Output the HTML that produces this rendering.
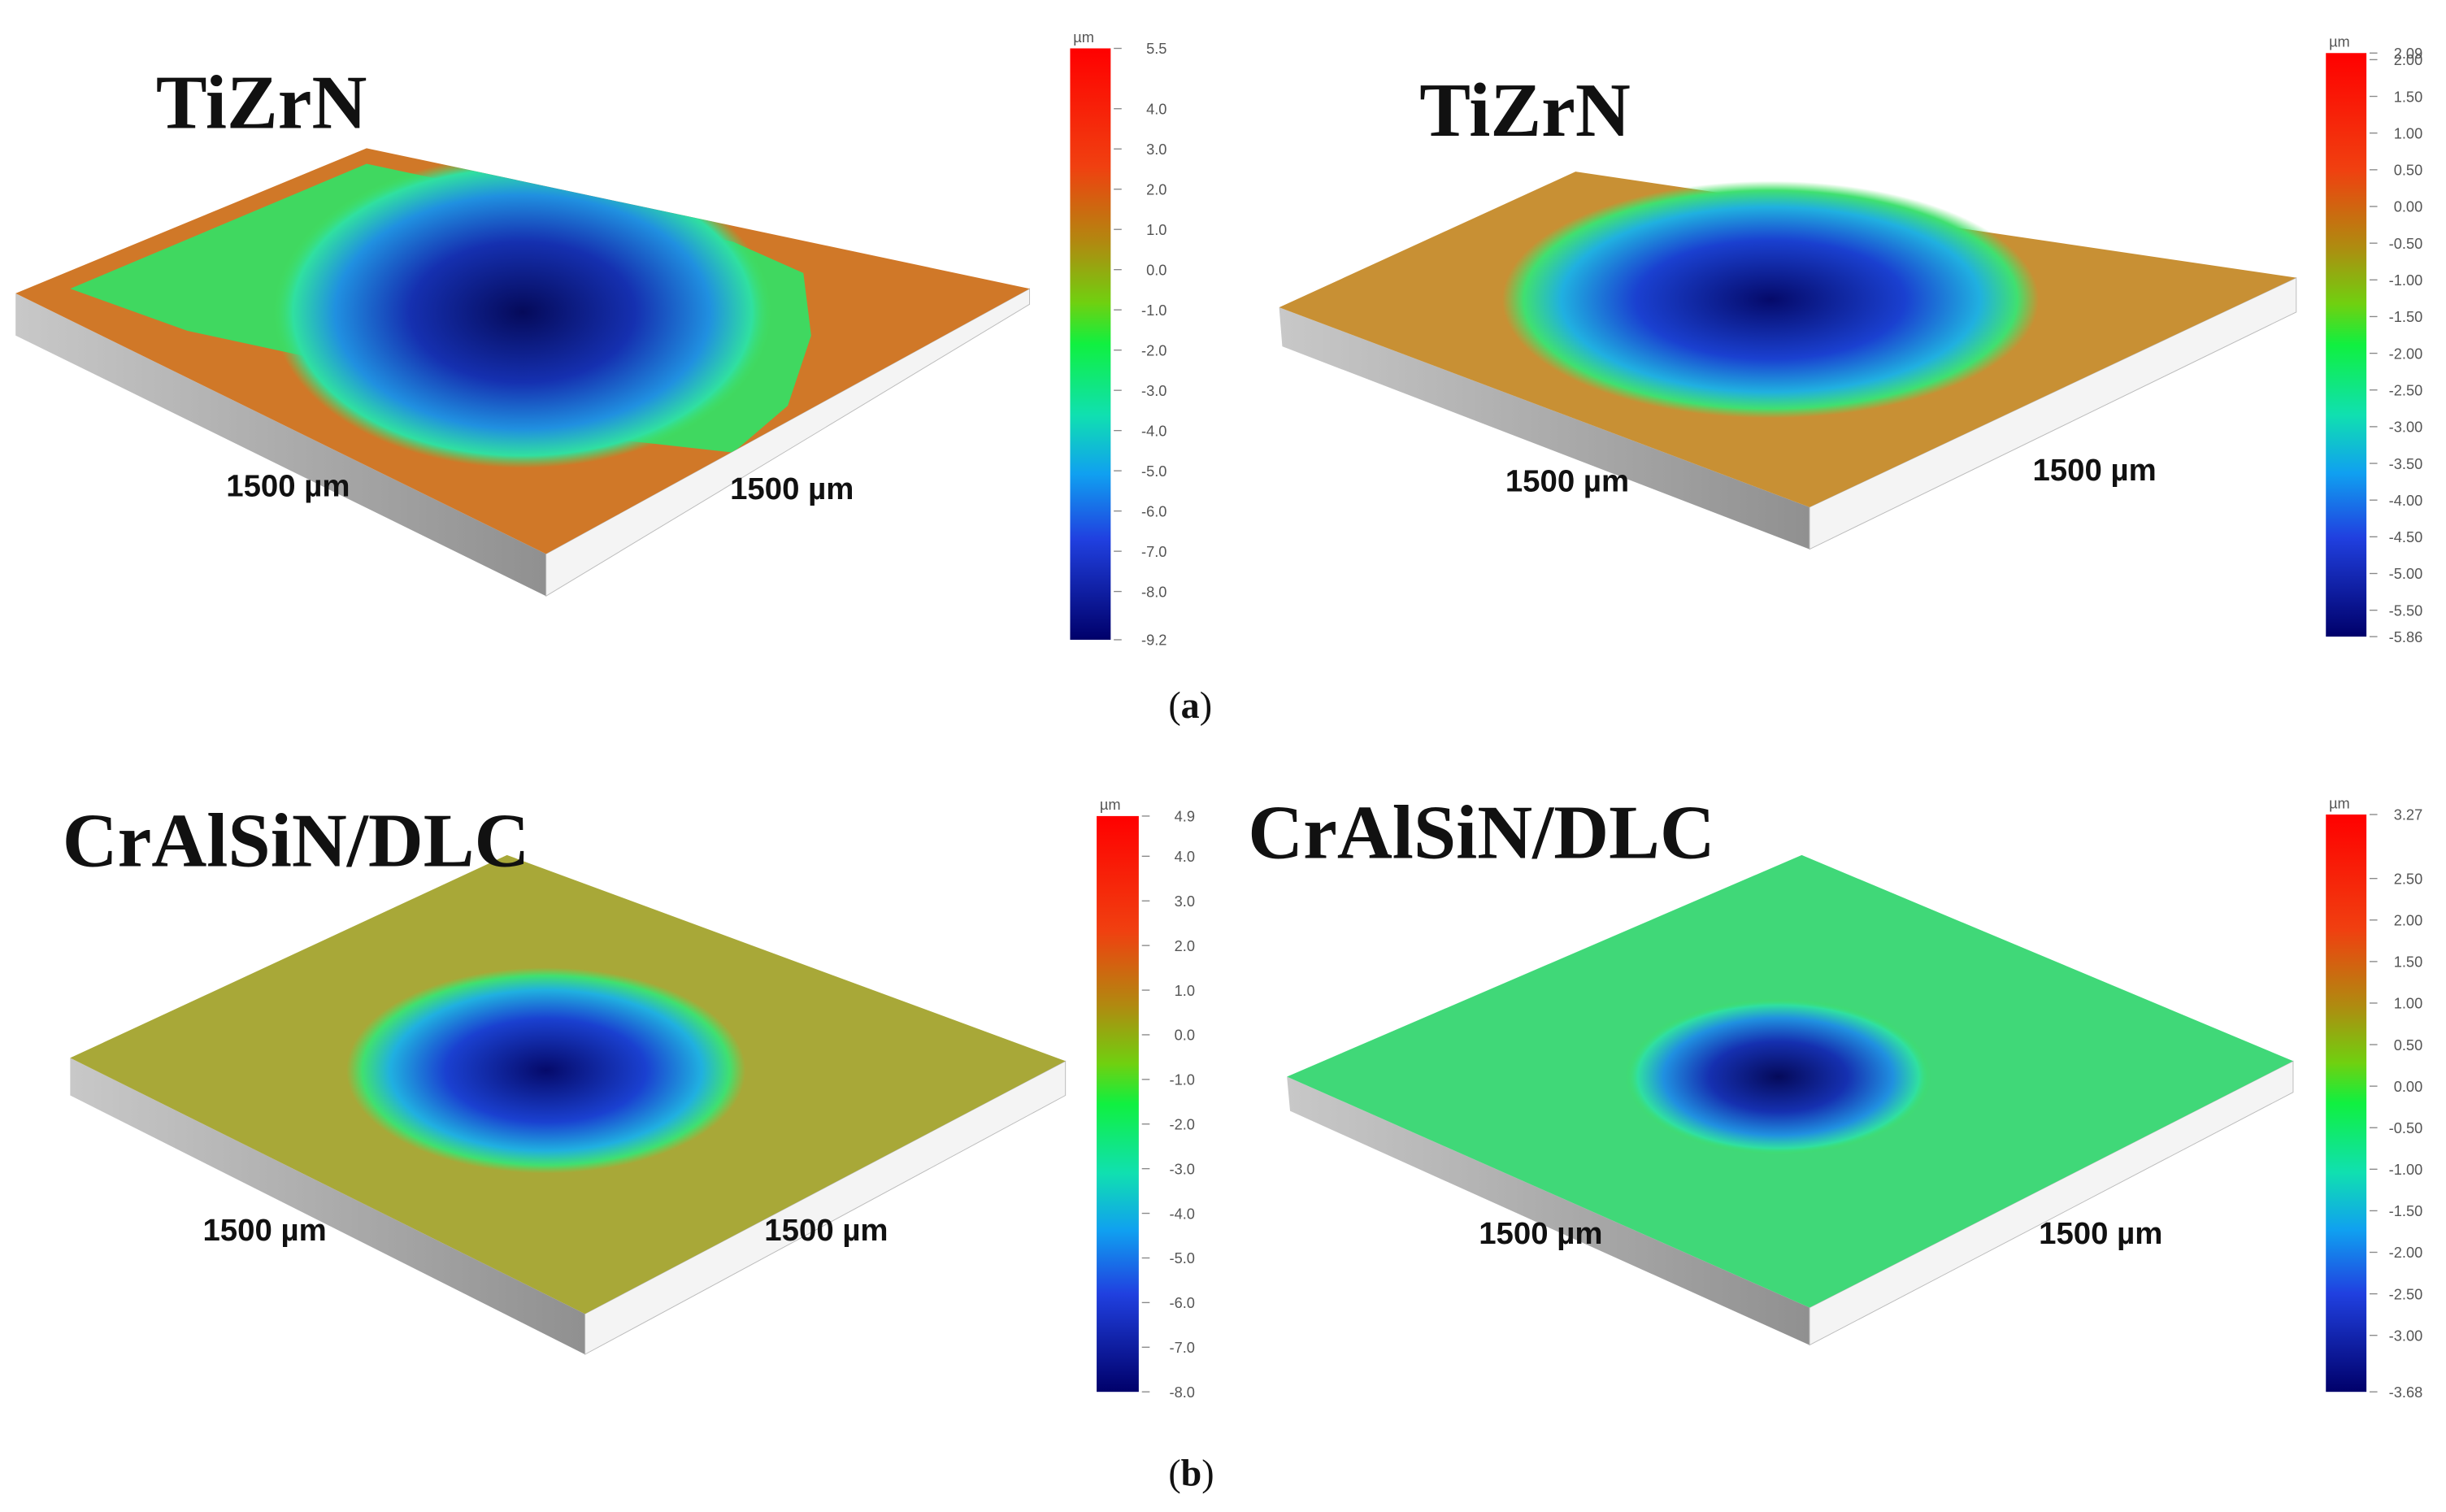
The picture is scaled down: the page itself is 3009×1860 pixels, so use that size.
<!DOCTYPE html>
<html><head><meta charset="utf-8"><style>
html,body{margin:0;padding:0;background:#fff;}
svg{display:block;}
.ttl{font-family:"Liberation Serif",serif;font-weight:bold;font-size:49px;fill:#111;}
.dim{font-family:"Liberation Sans",sans-serif;font-weight:bold;font-size:20px;fill:#111;}
.tk{font-family:"Liberation Sans",sans-serif;font-size:9.5px;fill:#555;}
.cap{font-family:"Liberation Serif",serif;font-size:24px;fill:#111;}
</style></head><body>
<svg id="fig" width="3009" height="1860" viewBox="0 0 1568 969" preserveAspectRatio="none" xmlns="http://www.w3.org/2000/svg">
<defs>
<linearGradient id="cbar" x1="0" y1="0" x2="0" y2="1">
<stop offset="0" stop-color="#ff0000"/><stop offset="0.2" stop-color="#f04010"/>
<stop offset="0.33" stop-color="#b08a10"/><stop offset="0.43" stop-color="#70d010"/>
<stop offset="0.5" stop-color="#10f040"/><stop offset="0.62" stop-color="#10e0b0"/>
<stop offset="0.72" stop-color="#10a0f0"/><stop offset="0.83" stop-color="#2040e0"/>
<stop offset="1" stop-color="#00006a"/></linearGradient>
<radialGradient id="crA"><stop offset="0" stop-color="#050a5a"/><stop offset="0.45" stop-color="#1530b0"/><stop offset="0.75" stop-color="#2090e0"/><stop offset="0.92" stop-color="#30e0a0"/><stop offset="1" stop-color="#40e060" stop-opacity="0"/></radialGradient>
<radialGradient id="crB"><stop offset="0" stop-color="#050a6a"/><stop offset="0.5" stop-color="#1a40d0"/><stop offset="0.78" stop-color="#20b0e0"/><stop offset="0.92" stop-color="#40e070"/><stop offset="1" stop-color="#50e060" stop-opacity="0"/></radialGradient>
<linearGradient id="side" x1="0" y1="0" x2="1" y2="0"><stop offset="0" stop-color="#c8c8c8"/><stop offset="1" stop-color="#909090"/></linearGradient>
<clipPath id="cTL"><polygon points="10,188 235,95 660,185 350,355"/></clipPath>
</defs>

<!-- Panel TL -->
<g>
<polygon points="10,188 350,355 350,382 10,215" fill="url(#side)"/>
<polygon points="350,355 660,185 660,195 350,382" fill="#f4f4f4" stroke="#bbb" stroke-width="0.5"/>
<polygon points="10,188 235,95 660,185 350,355" fill="#d07828"/>
<g clip-path="url(#cTL)">
<polygon points="45,185 235,105 470,155 515,175 520,215 505,260 470,290 380,280 250,240 120,212" fill="#40d860"/>
<ellipse cx="335" cy="200" rx="160" ry="100" fill="url(#crA)"/>
</g>
</g>
<text class="ttl" x="100" y="82">TiZrN</text>
<text class="dim" x="145" y="318">1500 µm</text>
<text class="dim" x="468" y="320">1500 µm</text>

<!-- Panel TR -->
<g>
<polygon points="820,197 1160,325 1160,352 822,222" fill="url(#side)"/>
<polygon points="1160,325 1472,178 1472,200 1160,352" fill="#f4f4f4" stroke="#bbb" stroke-width="0.5"/>
<polygon points="820,197 1010,110 1472,178 1160,325" fill="#c89034"/>
<ellipse cx="1135" cy="192" rx="172" ry="76" fill="url(#crB)"/>
</g>
<text class="ttl" x="910" y="87">TiZrN</text>
<text class="dim" x="965" y="315">1500 µm</text>
<text class="dim" x="1303" y="308">1500 µm</text>

<!-- Panel BL -->
<g>
<polygon points="45,678 375,842 375,868 45,702" fill="url(#side)"/>
<polygon points="375,842 683,680 683,702 375,868" fill="#f4f4f4" stroke="#bbb" stroke-width="0.5"/>
<polygon points="45,678 325,548 683,680 375,842" fill="#a8a838"/>
<ellipse cx="350" cy="686" rx="128" ry="66" fill="url(#crB)"/>
</g>
<text class="ttl" x="40" y="555">CrAlSiN/DLC</text>
<text class="dim" x="130" y="795">1500 µm</text>
<text class="dim" x="490" y="795">1500 µm</text>

<!-- Panel BR -->
<g>
<polygon points="825,690 1160,838 1160,862 827,712" fill="url(#side)"/>
<polygon points="1160,838 1470,680 1470,700 1160,862" fill="#f4f4f4" stroke="#bbb" stroke-width="0.5"/>
<polygon points="825,690 1155,548 1470,680 1160,838" fill="#40d878"/>
<ellipse cx="1140" cy="690" rx="98" ry="50" fill="url(#crA)"/>
</g>
<text class="ttl" x="800" y="550">CrAlSiN/DLC</text>
<text class="dim" x="948" y="797">1500 µm</text>
<text class="dim" x="1307" y="797">1500 µm</text>

<text class="cap" x="749" y="460">(<tspan font-weight="bold">a</tspan>)</text>
<text class="cap" x="749" y="952">(<tspan font-weight="bold">b</tspan>)</text>
<g id="bars"></g>
</svg>
<script>
const tlRange = [5.5, -9.2];
const tlTicks = ["5.5","4.0","3.0","2.0","1.0","0.0","-1.0","-2.0","-3.0","-4.0","-5.0","-6.0","-7.0","-8.0","-9.2"];
const trRange = [2.09, -5.86];
const trTicks = ["2.09","2.00","1.50","1.00","0.50","0.00","-0.50","-1.00","-1.50","-2.00","-2.50","-3.00","-3.50","-4.00","-4.50","-5.00","-5.50","-5.86"];
const blRange = [4.9, -8.0];
const blTicks = ["4.9","4.0","3.0","2.0","1.0","0.0","-1.0","-2.0","-3.0","-4.0","-5.0","-6.0","-7.0","-8.0"];
const brRange = [3.27, -3.68];
const brTicks = ["3.27","2.50","2.00","1.50","1.00","0.50","0.00","-0.50","-1.00","-1.50","-2.00","-2.50","-3.00","-3.68"];
const NS = "http://www.w3.org/2000/svg";
const host = document.getElementById('bars');
function colorbar(x, y, w, h, range, ticks, name) {
  const g = document.createElementNS(NS, 'g');
  
  
  const r = document.createElementNS(NS, 'rect');
  r.setAttribute('x', x); r.setAttribute('y', y); r.setAttribute('width', w); r.setAttribute('height', h);
  r.setAttribute('fill', 'url(#cbar)');
  
  
  g.appendChild(r);
  const u = document.createElementNS(NS, 'text');
  u.setAttribute('x', x + 2); u.setAttribute('y', y - 4); u.setAttribute('class', 'tk');
  u.textContent = 'µm';
  
  
  g.appendChild(u);
  const sy = v => y + (range[0] - v) / (range[0] - range[1]) * h;
  ticks.forEach(t => {
    const yy = sy(parseFloat(t));
    const l = document.createElementNS(NS, 'line');
    l.setAttribute('x1', x + w + 2); l.setAttribute('x2', x + w + 7);
    l.setAttribute('y1', yy); l.setAttribute('y2', yy);
    l.setAttribute('stroke', '#888'); l.setAttribute('stroke-width', '0.7');
    
    
    g.appendChild(l);
    const tx = document.createElementNS(NS, 'text');
    tx.setAttribute('x', x + w + 36); tx.setAttribute('y', yy + 3.5);
    tx.setAttribute('text-anchor', 'end'); tx.setAttribute('class', 'tk');
    tx.textContent = t;
    
    
    g.appendChild(tx);
  });
  host.appendChild(g);
}
colorbar(686, 31, 26, 379, tlRange, tlTicks, 'colorbar-tizrn-left');
colorbar(1491, 34, 26, 374, trRange, trTicks, 'colorbar-tizrn-right');
colorbar(703, 523, 27, 369, blRange, blTicks, 'colorbar-cralsin-left');
colorbar(1491, 522, 26, 370, brRange, brTicks, 'colorbar-cralsin-right');
</script>
</body></html>
